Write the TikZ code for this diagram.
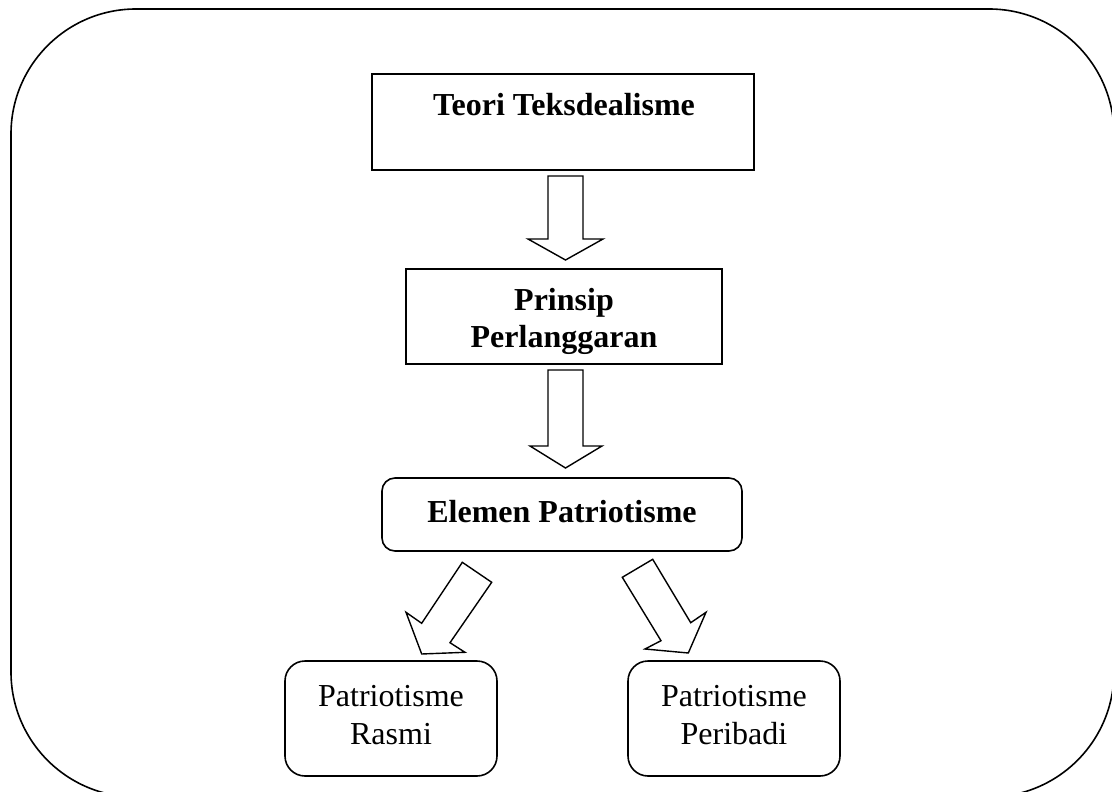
\documentclass[tikz,border=0pt]{standalone}
\usepackage{fontspec}
\setmainfont{Liberation Serif}
\begin{document}
\begin{tikzpicture}[x=1pt,y=-1pt,
  boxsharp/.style={draw, line width=1.6pt, inner sep=0pt},
  boxround/.style={draw, line width=1.6pt, inner sep=0pt, rounded corners=#1},
  txt/.style={anchor=base, inner sep=0pt, font=\fontsize{32}{37}\selectfont},
  btxt/.style={anchor=base, inner sep=0pt, font=\fontsize{32}{37}\selectfont\bfseries},
  blockarrow/.style={draw, line width=1.4pt, line join=miter, fill=white}]
\useasboundingbox (0,0) rectangle (1112,792);
% outer frame
\draw[line width=1.6pt, rounded corners=125pt] (11,9) rectangle (1114,797);

% boxes
\node[boxsharp, minimum width=382pt, minimum height=96pt] (teori) at (563,122) {};
\node[boxsharp, minimum width=316pt, minimum height=95pt] (prinsip) at (564,316.5) {};
\node[boxround=13pt, minimum width=360pt, minimum height=73pt] (elemen) at (562,514.5) {};
\node[boxround=20pt, minimum width=212pt, minimum height=115pt] (rasmi) at (391,718.5) {};
\node[boxround=20pt, minimum width=212pt, minimum height=115pt] (peribadi) at (734,718.5) {};

% texts
\node[btxt] (teoriT) at (564,115) {Teori Teksdealisme};
\node[btxt] (prinsipT1) at (564,310) {Prinsip};
\node[btxt] (prinsipT2) at (564,347) {Perlanggaran};
\node[btxt] (elemenT) at (562,522) {Elemen Patriotisme};
\node[txt] (rasmiT1) at (391,706) {Patriotisme};
\node[txt] (rasmiT2) at (391,744) {Rasmi};
\node[txt] (peribadiT1) at (734,706) {Patriotisme};
\node[txt] (peribadiT2) at (734,744) {Peribadi};

% block arrows
\draw[blockarrow] (548,176) -- (548,239) -- (528,239) -- (565.5,260) -- (603,239) -- (583,239) -- (583,176) -- cycle;
\draw[blockarrow] (548,370) -- (548,446) -- (530,446) -- (565.5,468) -- (602,446) -- (583,446) -- (583,370) -- cycle;
\draw[blockarrow] (462.3,562.3) -- (421.7,623.3) -- (406,612.3) -- (421.7,654) -- (465,652.3) -- (450,642.7) -- (491.7,582.3) -- cycle;
\draw[blockarrow] (622.3,577.3) -- (661,640.7) -- (645,649) -- (688.3,653) -- (706,612.3) -- (690.7,622.7) -- (652.7,559.3) -- cycle;
\end{tikzpicture}
\end{document}
